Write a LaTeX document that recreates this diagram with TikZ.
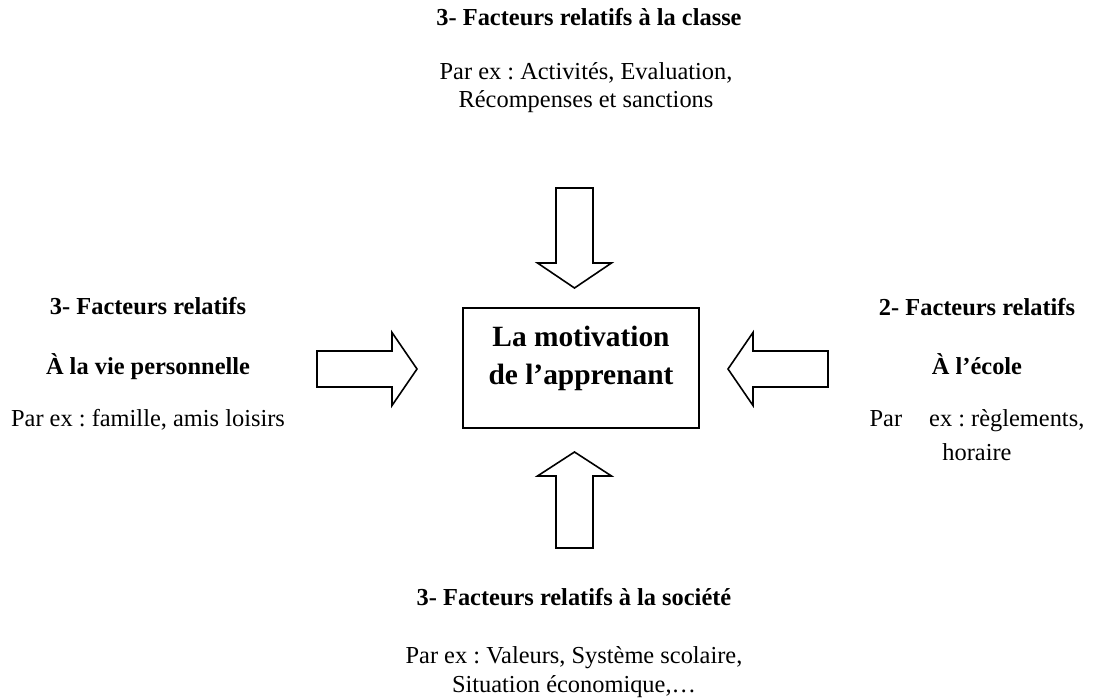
\documentclass[tikz,border=0pt]{standalone}
\usepackage{fontspec}
\setmainfont{Liberation Serif}
\frenchspacing
\begin{document}
\begin{tikzpicture}[x=0.5pt,y=-0.5pt,
  lbl/.style={anchor=base, inner sep=0pt, font=\fontsize{12.2}{14}\selectfont},
  ttl/.style={anchor=base, inner sep=0pt, font=\fontsize{12.2}{14}\selectfont\bfseries},
  blockarrow/.style={draw, line width=0.8pt, line join=miter}]
\useasboundingbox (0,0) rectangle (1093,700);

% central box
\node[draw, line width=0.9pt, minimum width=118pt, minimum height=60pt, inner sep=0pt] (box) at (581,368) {};
\node[font=\fontsize{14.7}{19}\selectfont\bfseries, align=center, inner sep=0pt] (motiv) at (581,358) {La motivation\\de l’apprenant};

% block arrows
\draw[blockarrow] (556,188) -- (593,188) -- (593,263) -- (611.5,263) -- (574.5,288) -- (537.5,263) -- (556,263) -- cycle;
\draw[blockarrow] (556,548) -- (593,548) -- (593,476) -- (611.5,476) -- (574.5,452) -- (537.5,476) -- (556,476) -- cycle;
\draw[blockarrow] (317,351) -- (392,351) -- (392,332.5) -- (417,369) -- (392,405.5) -- (392,387) -- (317,387) -- cycle;
\draw[blockarrow] (828,351) -- (753,351) -- (753,332.5) -- (728,369) -- (753,405.5) -- (753,387) -- (828,387) -- cycle;

% top texts
\node[ttl] (tclass) at (589,26) {3- Facteurs relatifs à la classe};
\node[lbl] (tex1) at (586,80) {Par ex : Activités, Evaluation,};
\node[lbl] (tex2) at (586,108) {Récompenses et sanctions};

% left texts
\node[ttl] (lt) at (148,315) {3- Facteurs relatifs};
\node[ttl] (lv) at (148,375) {À la vie personnelle};
\node[lbl] (lp) at (148,426) {Par ex : famille, amis loisirs};

% right texts
\node[ttl] (rt) at (977,316) {2- Facteurs relatifs};
\node[ttl] (re) at (977,375) {À l’école};
\node[lbl] (rp) at (977,426) {Par\hspace{13.5pt}ex : règlements,};
\node[lbl] (rh) at (977,460) {horaire};

% bottom texts
\node[ttl] (bt) at (574,605) {3- Facteurs relatifs à la société};
\node[lbl] (bp) at (574,663) {Par ex : Valeurs, Système scolaire,};
\node[lbl] (bs) at (574,692) {Situation économique,…};
\end{tikzpicture}
\end{document}
